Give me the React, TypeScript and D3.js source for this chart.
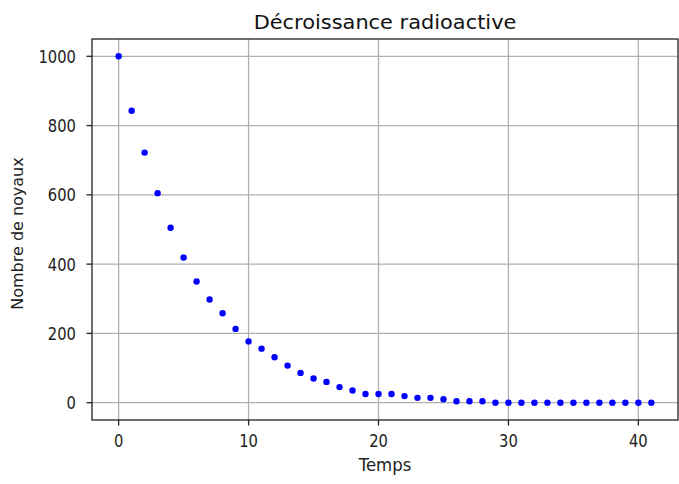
import React from "react";
import * as d3 from "d3";

const temps: number[] = d3.range(0, 42);
const noyaux: number[] = [
  1000, 843, 722, 605, 505, 419, 350, 298, 258, 213,
  177, 156, 131, 107, 86, 70, 60, 45, 35, 25,
  25, 25, 19, 14, 14, 10, 4, 4, 4, 0,
  0, 0, 0, 0, 0, 0, 0, 0, 0, 0,
  0, 0,
];
const xTicks: number[] = [0, 10, 20, 30, 40];
const yTicks: number[] = [0, 200, 400, 600, 800, 1000];
const title = "Décroissance radioactive";
const xLabel = "Temps";
const yLabel = "Nombre de noyaux";

const W = 679;
const H = 484;
const M = { left: 92, right: 678, top: 39, bottom: 420 };
const FONT = "DejaVu Sans, sans-serif";

export default function App() {
  const x = d3.scaleLinear().domain([-2.05, 43.05]).range([M.left, M.right]);
  const y = d3.scaleLinear().domain([-50, 1050]).range([M.bottom, M.top]);
  const grid = "#b0b0b0";
  const ink = "#222";
  return (
    <div style={{ position: "fixed", left: 0, top: 0, width: W, height: H, background: "#fff" }}>
      <svg width={W} height={H} style={{ display: "block" }}>
        <rect x={0} y={0} width={W} height={H} fill="#fff" />
        {xTicks.map((t) => (
          <line key={"gx" + t} x1={x(t)} x2={x(t)} y1={M.top} y2={M.bottom} stroke={grid} strokeWidth={1.3} />
        ))}
        {yTicks.map((t) => (
          <line key={"gy" + t} x1={M.left} x2={M.right} y1={y(t)} y2={y(t)} stroke={grid} strokeWidth={1.3} />
        ))}
        {temps.map((t, i) => (
          <circle key={"p" + i} cx={x(t)} cy={y(noyaux[i])} r={3.2} fill="#0000ff" />
        ))}
        <rect x={M.left} y={M.top} width={M.right - M.left} height={M.bottom - M.top} fill="none" stroke={ink} strokeWidth={1.3} />
        {xTicks.map((t) => (
          <g key={"tx" + t}>
            <line x1={x(t)} x2={x(t)} y1={M.bottom} y2={M.bottom + 5.5} stroke={ink} strokeWidth={1.3} />
            <text transform={`translate(${x(t)},447) scale(0.82,1)`} textAnchor="middle" fontFamily={FONT} fontSize={18} fill={ink}>{t}</text>
          </g>
        ))}
        {yTicks.map((t) => (
          <g key={"ty" + t}>
            <line x1={M.left - 5.5} x2={M.left} y1={y(t)} y2={y(t)} stroke={ink} strokeWidth={1.3} />
            <text transform={`translate(${M.left - 16},${y(t) + 6.6}) scale(0.82,1)`} textAnchor="end" fontFamily={FONT} fontSize={18} fill={ink}>{t}</text>
          </g>
        ))}
        <text transform={`translate(${(M.left + M.right) / 2},29) scale(1.1,1)`} textAnchor="middle" fontFamily={FONT} fontSize={19} fill="#111">{title}</text>
        <text transform={`translate(${(M.left + M.right) / 2},470.5) scale(0.92,1)`} textAnchor="middle" fontFamily={FONT} fontSize={18} fill={ink}>{xLabel}</text>
        <text transform={`translate(23,${(M.top + M.bottom) / 2 + 4}) rotate(-90) scale(1,0.95)`} textAnchor="middle" fontFamily={FONT} fontSize={16} fill={ink}>{yLabel}</text>
      </svg>
    </div>
  );
}
